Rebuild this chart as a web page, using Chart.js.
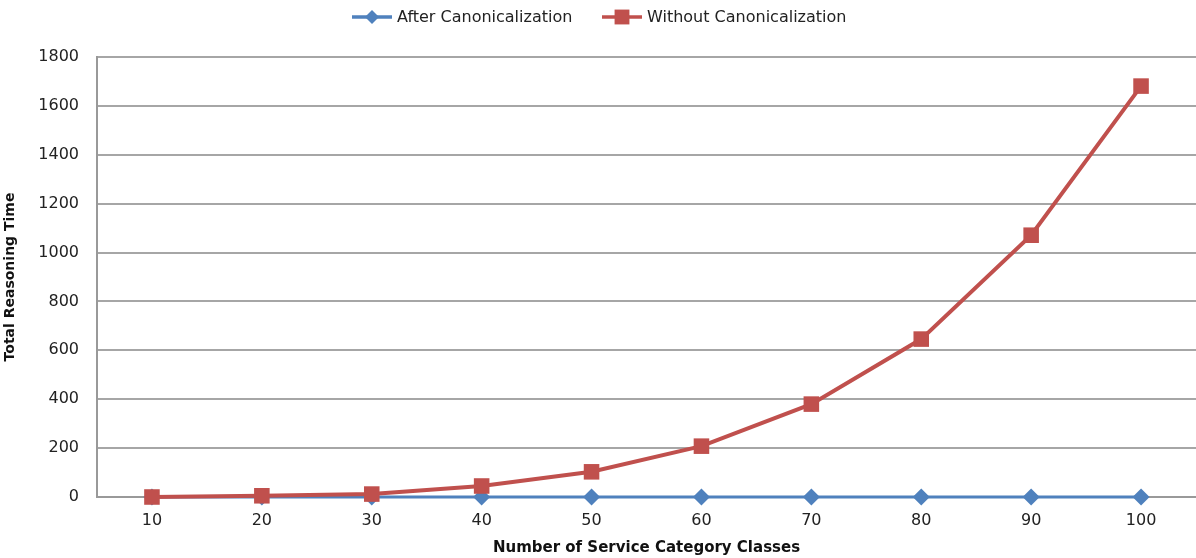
<!DOCTYPE html>
<html>
<head>
<meta charset="utf-8">
<script src="https://cdn.jsdelivr.net/npm/chart.js@4"></script>
<style>
  html, body { margin: 0; padding: 0; background: #fff; }
  #wrap { width: 1196px; height: 558px; }
</style>
</head>
<body>
<div id="wrap"><canvas id="chart" width="1196" height="558"></canvas></div>
<script>
// service category classes vs total reasoning time
const xlabels = ['10', '20', '30', '40', '50', '60', '70', '80', '90', '100'];
const afterCanon = [0, 0, 0, 0, 0, 0, 0, 0, 0, 0];
const withoutCanon = [0, 5, 12, 45, 103, 208, 380, 646, 1071, 1681];
const yticks = [0, 200, 400, 600, 800, 1000, 1200, 1400, 1600, 1800];

const blue = '#4f81bd';
const red = '#c0504d';
const fontFam = '"DejaVu Sans", Verdana, sans-serif';

// legend drawn by hand: line with the marker in the middle, then the label
const lineLegend = {
  id: 'lineLegend',
  afterDraw(chart) {
    const ctx = chart.ctx;
    const items = [
      {x: 352, color: blue, style: 'rectRot', r: 7, text: 'After Canonicalization'},
      {x: 602, color: red, style: 'rect', r: 10.5, text: 'Without Canonicalization'}
    ];
    const y = 17;
    ctx.save();
    items.forEach(it => {
      ctx.strokeStyle = it.color;
      ctx.lineWidth = 3.5;
      ctx.beginPath();
      ctx.moveTo(it.x, y);
      ctx.lineTo(it.x + 40, y);
      ctx.stroke();
      ctx.fillStyle = it.color;
      Chart.helpers.drawPoint(ctx, {pointStyle: it.style, radius: it.r, borderWidth: 0}, it.x + 20, y);
      ctx.fillStyle = '#222';
      ctx.font = '16px ' + fontFam;
      ctx.textBaseline = 'middle';
      ctx.fillText(it.text, it.x + 45, y + 1);
    });
    ctx.restore();
  }
};

const ctx = document.getElementById('chart').getContext('2d');
const myChart = new Chart(ctx, {
  type: 'line',
  data: {
    labels: xlabels,
    datasets: [{
      label: 'After Canonicalization',
      data: afterCanon,
      borderColor: blue,
      backgroundColor: blue,
      borderWidth: 3,
      pointStyle: 'rectRot',
      pointRadius: 8.5,
      pointBorderWidth: 0,
      clip: false,
      order: 2
    }, {
      label: 'Without Canonicalization',
      data: withoutCanon,
      borderColor: red,
      backgroundColor: red,
      borderWidth: 4,
      pointStyle: 'rect',
      pointRadius: 11,
      pointBorderWidth: 0,
      clip: false,
      order: 1
    }]
  },
  options: {
    responsive: false,
    animation: false,
    layout: { autoPadding: false, padding: { top: 57, right: -3, left: 0, bottom: 0 } },
    plugins: {
      legend: { display: false },
      tooltip: { enabled: false }
    },
    scales: {
      x: {
        offset: true,
        grid: { display: false, drawTicks: false },
        border: { color: '#999', width: 2 },
        ticks: { color: '#222', font: { size: 16, family: fontFam }, padding: 14 },
        title: {
          display: true,
          text: 'Number of Service Category Classes',
          color: '#111',
          font: { size: 15, weight: 'bold', family: fontFam },
          padding: { top: 2, bottom: 1 }
        },
        afterFit(scale) { scale.height = 61; }
      },
      y: {
        min: 0,
        max: 1800,
        afterBuildTicks(scale) { scale.ticks = yticks.map(v => ({value: v})); },
        grid: { color: '#a6a6a6', lineWidth: 2, drawTicks: false },
        border: { color: '#999', width: 2 },
        ticks: {
          color: '#222',
          font: { size: 16, family: fontFam },
          padding: 18,
          callback: v => String(v)
        },
        title: {
          display: true,
          text: 'Total Reasoning Time',
          color: '#111',
          font: { size: 14, weight: 'bold', family: fontFam },
          padding: { top: 2, bottom: 0 }
        },
        afterFit(scale) { scale.width = 97; }
      }
    }
  },
  plugins: [lineLegend]
});
</script>
</body>
</html>
